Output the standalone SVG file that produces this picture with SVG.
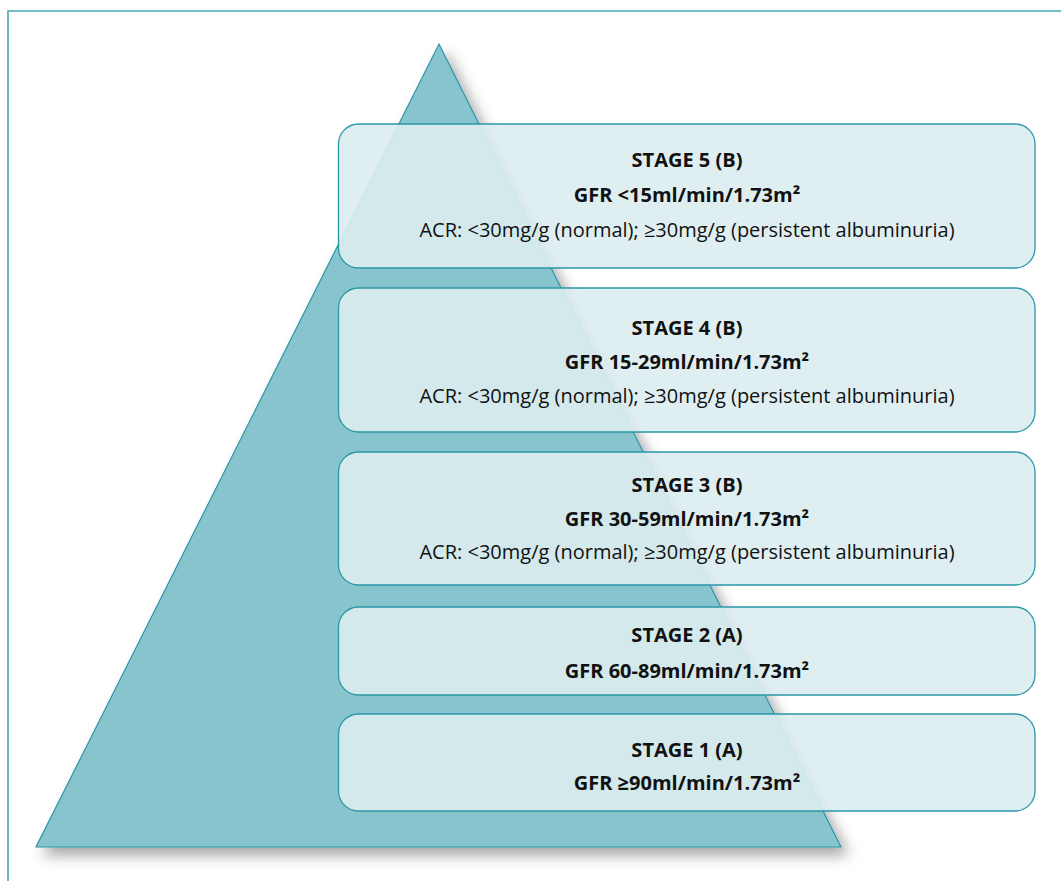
<svg xmlns="http://www.w3.org/2000/svg" width="1061" height="881" viewBox="0 0 1061 881">
  <defs>
    <filter id="shadow" x="-10%" y="-10%" width="130%" height="130%">
      <feDropShadow dx="7" dy="8" stdDeviation="7" flood-color="#000" flood-opacity="0.35"/>
    </filter>
  </defs>
  <style>
    .frame { fill: none; stroke: #4aa8b5; stroke-width: 1.6; }
    .tri { fill: #88c4cd; stroke: #2a96a6; stroke-width: 1.2; }
    .box { fill: #dbedf0; fill-opacity: 0.9; stroke: #2a97a8; stroke-width: 1.3; }
    .t { font-family: "Open Sans", "Noto Sans", "DejaVu Sans", sans-serif; font-size: 20px; fill: #111; text-anchor: middle; }
    .b { font-weight: bold; }
  </style>
  <rect width="1061" height="881" fill="#fff"/>
  <path class="frame" d="M8,881 V11 H1061"/>
  <g id="pyramid">
    <polygon class="tri" points="439,44 841,847 36,847" filter="url(#shadow)"/>
  </g>
  <g id="stage5">
    <rect class="box" x="338.5" y="124" width="696.5" height="144" rx="20"/>
    <text class="t b" x="687" y="167">STAGE 5 (B)</text>
    <text class="t b" x="687" y="202">GFR &lt;15ml/min/1.73m²</text>
    <text class="t" x="687" y="237">ACR: &lt;30mg/g (normal); ≥30mg/g (persistent albuminuria)</text>
  </g>
  <g id="stage4">
    <rect class="box" x="338.5" y="288" width="696.5" height="144" rx="20"/>
    <text class="t b" x="687" y="335">STAGE 4 (B)</text>
    <text class="t b" x="687" y="369">GFR 15-29ml/min/1.73m²</text>
    <text class="t" x="687" y="403">ACR: &lt;30mg/g (normal); ≥30mg/g (persistent albuminuria)</text>
  </g>
  <g id="stage3">
    <rect class="box" x="338.5" y="452" width="696.5" height="133" rx="20"/>
    <text class="t b" x="687" y="492">STAGE 3 (B)</text>
    <text class="t b" x="687" y="526">GFR 30-59ml/min/1.73m²</text>
    <text class="t" x="687" y="559">ACR: &lt;30mg/g (normal); ≥30mg/g (persistent albuminuria)</text>
  </g>
  <g id="stage2">
    <rect class="box" x="338.5" y="607" width="696.5" height="88" rx="20"/>
    <text class="t b" x="687" y="642">STAGE 2 (A)</text>
    <text class="t b" x="687" y="678">GFR 60-89ml/min/1.73m²</text>
  </g>
  <g id="stage1">
    <rect class="box" x="338.5" y="714" width="696.5" height="97" rx="20"/>
    <text class="t b" x="687" y="757">STAGE 1 (A)</text>
    <text class="t b" x="687" y="790">GFR ≥90ml/min/1.73m²</text>
  </g>
  <g id="connectors"/>
</svg>
